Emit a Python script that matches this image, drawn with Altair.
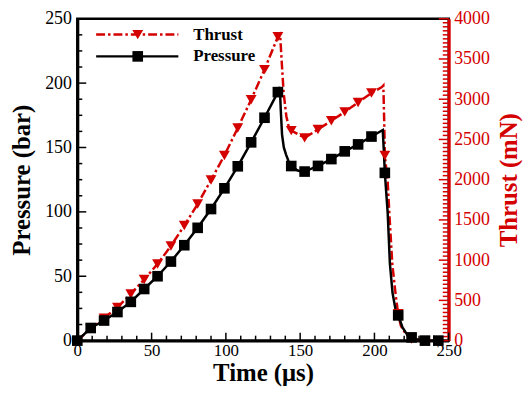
import altair as alt
import pandas as pd

# ---------------- data ----------------
marker_time = [0, 9, 18, 27, 36, 45, 54, 63, 72, 81, 90, 99, 108, 117, 126, 135,
               144, 153, 162, 171, 180, 189, 198, 207, 216, 225, 234, 243]
pressure_markers = [0, 9.8, 15.6, 22.2, 30.1, 40.1, 50.0, 61.4, 74.1, 87.6, 102.2,
                    118.3, 135.4, 154.0, 173.1, 193.0, 135.6, 131.3, 135.7, 141.0,
                    147.0, 152.4, 158.5, 130.3, 19.6, 2.5, 0, 0]
thrust_markers = [0, 150, 280, 413, 580, 760, 953, 1176, 1430, 1697, 1996, 2301,
                  2643, 2994, 3368, 3776, 2610, 2520, 2624, 2732, 2842, 2960, 3078,
                  2300, 334, 20, 0, 0]

# extra line vertices (the curves between markers)
pressure_extra_t = [136.3, 137.0, 137.8, 139.0, 140.5, 142.2, 148.0, 150.5,
                    204.5, 205.6, 206.3, 208.9, 210.4, 212.2, 214.4, 218.9, 222.2, 229.0]
pressure_extra_v = [197.0, 178.0, 160.0, 150.0, 144.5, 139.3, 132.3, 131.3,
                    162.8, 163.5, 148.0, 99.5, 59.8, 36.9, 22.9, 10.2, 4.3, 0.8]
thrust_extra_t = [136.5, 137.8, 138.9, 140.7, 142.2, 205.0, 206.0, 206.6,
                  208.9, 210.2, 212.0, 214.4, 217.8, 221.1]
thrust_extra_v = [3806, 3400, 3073, 2789, 2667, 3150, 3170, 2700,
                  1974, 1527, 957, 550, 183, 81]

x_ticks_major = [0, 50, 100, 150, 200, 250]
x_ticks_minor = [v for v in range(0, 251, 10) if v % 50]
p_ticks_major = [0, 50, 100, 150, 200, 250]
p_ticks_minor = [v * 12.5 for v in range(21) if (v * 12.5) % 50]
t_ticks_major = [0, 500, 1000, 1500, 2000, 2500, 3000, 3500, 4000]
t_ticks_minor = [v for v in range(0, 4001, 50) if v % 500]

# ---------------- styling ----------------
RED = "#d40000"
FONT = "Liberation Serif"
W, H = 375, 325

pm = pd.DataFrame({"t": marker_time, "p": pressure_markers})
tm = pd.DataFrame({"t": marker_time, "T": thrust_markers})
pl = pd.concat([pm, pd.DataFrame({"t": pressure_extra_t, "p": pressure_extra_v})]).sort_values("t")
tl = pd.concat([tm, pd.DataFrame({"t": thrust_extra_t, "T": thrust_extra_v})]).sort_values("t")


def xs():
    return alt.Scale(domain=[0, 250], nice=False, zero=False)


def ps():
    return alt.Scale(domain=[0, 250], nice=False)


def ts():
    return alt.Scale(domain=[0, 4000], nice=False)


x_axis = alt.Axis(title="Time (μs)", orient="bottom", values=x_ticks_major, ticks=False,
                  grid=False, domainColor="black", domainWidth=3, labelFlush=False,
                  format="d",
                  labelFont=FONT, labelFontSize=17, labelColor="black", labelPadding=2,
                  titleFont=FONT, titleFontSize=25, titleFontWeight="bold",
                  titleColor="black", titlePadding=2)
p_axis = alt.Axis(title="Pressure (bar)", orient="left", values=p_ticks_major, ticks=False,
                  grid=False, domainColor="black", domainWidth=3, labelFlush=False,
                  format="d",
                  labelFont=FONT, labelFontSize=18, labelColor="black", labelPadding=6,
                  titleFont=FONT, titleFontSize=25, titleFontWeight="bold",
                  titleColor="black", titlePadding=10)
t_axis = alt.Axis(title="Thrust (mN)", orient="right", values=t_ticks_major, ticks=False,
                  grid=False, domainColor=RED, domainWidth=3, labelFlush=False,
                  format="d",
                  labelFont=FONT, labelFontSize=18, labelColor=RED, labelPadding=5,
                  titleFont=FONT, titleFontSize=25, titleFontWeight="bold",
                  titleColor=RED, titlePadding=7, titleAngle=270, titleBaseline="top")

# ---------------- layers ----------------
thrust_line = alt.Chart(tl).mark_line(color=RED, strokeWidth=2.5,
                                      strokeDash=[9, 3, 2.5, 3]).encode(
    x=alt.X("t:Q", scale=xs(), axis=x_axis),
    y=alt.Y("T:Q", scale=ts(), axis=t_axis))
pressure_line = alt.Chart(pl).mark_line(color="black", strokeWidth=2.5).encode(
    x=alt.X("t:Q", scale=xs(), axis=None),
    y=alt.Y("p:Q", scale=ps(), axis=p_axis))
thrust_pts = alt.Chart(tm).mark_point(shape="triangle-down", filled=True, color=RED,
                                      size=120, opacity=1).encode(
    x=alt.X("t:Q", scale=xs(), axis=None), y=alt.Y("T:Q", scale=ts(), axis=None))
pressure_pts = alt.Chart(pm).mark_point(shape="square", filled=True, color="black",
                                        size=115, opacity=1).encode(
    x=alt.X("t:Q", scale=xs(), axis=None), y=alt.Y("p:Q", scale=ps(), axis=None))

t_tick_maj = alt.Chart(pd.DataFrame({"v": t_ticks_major})).mark_rule(
    color=RED, strokeWidth=1.5).encode(
    y=alt.Y("v:Q", scale=ts(), axis=None), x=alt.value(W), x2=alt.value(W - 10))
t_tick_min = alt.Chart(pd.DataFrame({"v": t_ticks_minor})).mark_rule(
    color=RED, strokeWidth=1.5).encode(
    y=alt.Y("v:Q", scale=ts(), axis=None), x=alt.value(W), x2=alt.value(W - 6))
p_tick_maj = alt.Chart(pd.DataFrame({"v": p_ticks_major})).mark_rule(
    color="black", strokeWidth=1.5).encode(
    y=alt.Y("v:Q", scale=ps(), axis=None), x=alt.value(0), x2=alt.value(9))
p_tick_min = alt.Chart(pd.DataFrame({"v": p_ticks_minor})).mark_rule(
    color="black", strokeWidth=1.5).encode(
    y=alt.Y("v:Q", scale=ps(), axis=None), x=alt.value(0), x2=alt.value(5))
x_tick_maj = alt.Chart(pd.DataFrame({"t": x_ticks_major})).mark_rule(
    color="black", strokeWidth=1.5).encode(
    x=alt.X("t:Q", scale=xs(), axis=None), y=alt.value(H), y2=alt.value(H - 8))
x_tick_min = alt.Chart(pd.DataFrame({"t": x_ticks_minor})).mark_rule(
    color="black", strokeWidth=1.5).encode(
    x=alt.X("t:Q", scale=xs(), axis=None), y=alt.value(H), y2=alt.value(H - 5))


def legend_entry(label, ly, color, dash, shape, size):
    d = pd.DataFrame({"label": [label]})
    line_kw = dict(color=color, strokeWidth=2.5)
    if dash:
        line_kw["strokeDash"] = dash
    ln = alt.Chart(d).mark_rule(**line_kw).encode(
        x=alt.value(19), x2=alt.value(102), y=alt.value(ly))
    pt = alt.Chart(d).mark_point(shape=shape, filled=True, color=color, size=size,
                                 opacity=1).encode(x=alt.value(61), y=alt.value(ly))
    tx = alt.Chart(d).mark_text(align="left", baseline="middle", font=FONT, fontSize=17,
                                fontWeight="bold", color="black").encode(
        x=alt.value(117), y=alt.value(ly), text="label:N")
    return [ln, pt, tx]


legend_layers = (legend_entry("Thrust", 16, RED, [9, 3, 2.5, 3], "triangle-down", 120)
                 + legend_entry("Pressure", 38, "black", None, "square", 115))

chart = (alt.layer(thrust_line, pressure_line, t_tick_maj, t_tick_min,
                   p_tick_maj, p_tick_min, x_tick_maj, x_tick_min,
                   thrust_pts, pressure_pts, *legend_layers)
         .resolve_scale(y="independent")
         .resolve_axis(x="independent", y="independent")
         .properties(width=W, height=H,
                     padding={"left": 70, "top": 9, "right": 75, "bottom": 46},
                     autosize=alt.AutoSizeParams(type="none"))
         .configure(font=FONT)
         .configure_view(stroke="black", strokeWidth=2.5))

chart.save("out.html", embed_options={"renderer": "svg", "actions": False})
